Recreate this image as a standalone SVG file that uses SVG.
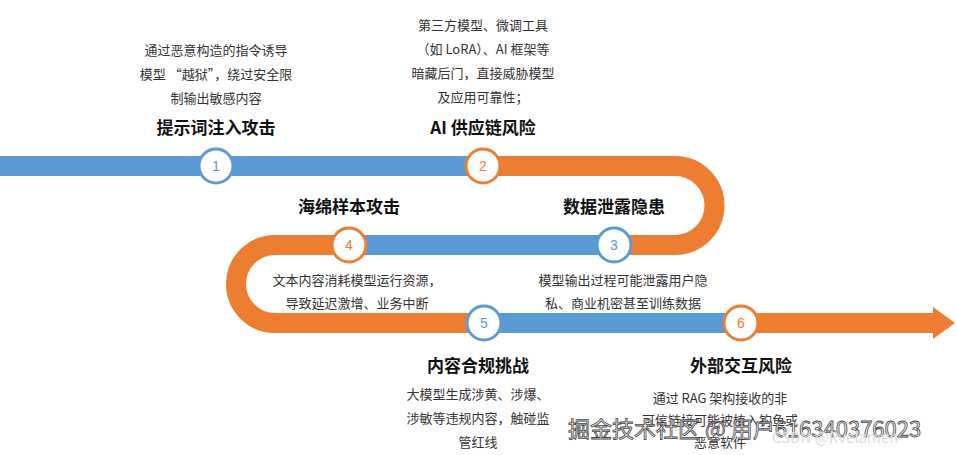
<svg xmlns="http://www.w3.org/2000/svg" width="957" height="455" viewBox="0 0 957 455">
<style>
.b{fill:none;stroke:#5B9BD5;stroke-width:20}
.o{fill:none;stroke:#ED7D31;stroke-width:20}
.cb{fill:#fff;stroke:#5B9BD5;stroke-width:3}
.co{fill:#fff;stroke:#ED7D31;stroke-width:3}
.n{font-family:"Liberation Sans",sans-serif;font-size:14px;text-anchor:middle}
.t{font-family:"Noto Sans CJK SC",sans-serif;font-size:17px;font-weight:bold;text-anchor:middle;fill:#111}
.d{font-family:"Noto Sans CJK SC",sans-serif;font-size:13px;text-anchor:middle;fill:#333}
</style>
<rect width="957" height="455" fill="#fff"/>
<g id="connectors">
<path class="b" d="M0 166H483"/>
<path class="o" d="M483 166H675A39.5 39.5 0 0 1 675 245H614"/>
<path class="b" d="M614 245H349"/>
<path class="o" d="M349 245H275A39 39 0 0 0 275 323H484"/>
<path class="b" d="M484 323H741"/>
<path class="o" d="M741 323H935"/>
<polygon points="933,307 955,323 933,339" fill="#ED7D31"/>
</g>
<g id="n1"><circle class="cb" cx="216" cy="166" r="17"/><text class="n" x="216" y="171" fill="#5B9BD5">1</text>
<text class="t" x="216" y="134">提示词注入攻击</text>
<text class="d" x="216" y="55">通过恶意构造的指令诱导</text><text class="d" x="216" y="79">模型 “越狱”，绕过安全限</text><text class="d" x="216" y="103">制输出敏感内容</text></g>
<g id="n2"><circle class="co" cx="483" cy="166" r="17"/><text class="n" x="483" y="171" fill="#ED7D31">2</text>
<text class="t" x="483" y="134">AI 供应链风险</text>
<text class="d" x="483" y="30">第三方模型、微调工具</text><text class="d" x="483" y="54">（如 LoRA）、AI 框架等</text><text class="d" x="483" y="78">暗藏后门，直接威胁模型</text><text class="d" x="483" y="102">及应用可靠性；</text></g>
<g id="n3"><circle class="cb" cx="614" cy="245" r="17"/><text class="n" x="614" y="250" fill="#5B9BD5">3</text>
<text class="t" x="614" y="213">数据泄露隐患</text>
<text class="d" x="623" y="285">模型输出过程可能泄露用户隐</text><text class="d" x="623" y="308">私、商业机密甚至训练数据</text></g>
<g id="n4"><circle class="co" cx="349" cy="245" r="17"/><text class="n" x="349" y="250" fill="#ED7D31">4</text>
<text class="t" x="349" y="213">海绵样本攻击</text>
<text class="d" x="357" y="285">文本内容消耗模型运行资源，</text><text class="d" x="357" y="308">导致延迟激增、业务中断</text></g>
<g id="n5"><circle class="cb" cx="484" cy="323" r="17"/><text class="n" x="484" y="328" fill="#5B9BD5">5</text>
<text class="t" x="478" y="372">内容合规挑战</text>
<text class="d" x="478" y="399">大模型生成涉黄、涉爆、</text><text class="d" x="478" y="423">涉敏等违规内容，触碰监</text><text class="d" x="478" y="447">管红线</text></g>
<g id="n6"><circle class="co" cx="741" cy="323" r="17"/><text class="n" x="741" y="328" fill="#ED7D31">6</text>
<text class="t" x="741" y="372">外部交互风险</text>
<text class="d" x="720" y="403">通过 RAG 架构接收的非</text><text class="d" x="720" y="425">可信链接可能被植入钓鱼或</text><text class="d" x="720" y="447">恶意软件</text></g>
<g id="watermark" font-family="Noto Sans CJK SC,sans-serif">
<text x="568" y="437" font-size="22" fill="#fff" stroke="#444" stroke-width="0.8">掘金技术社区 @ 用户616340376023</text>
<text x="772" y="443" font-size="15" fill="#ddd">CSDN @Rvelamen</text>
</g>
</svg>
